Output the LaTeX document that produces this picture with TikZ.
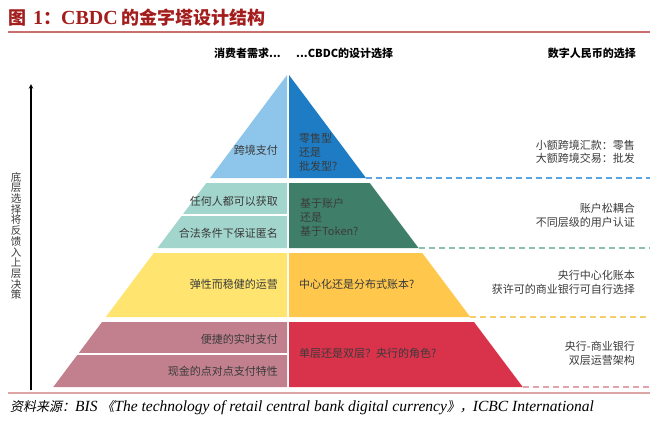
\documentclass[tikz,border=0pt]{standalone}
\usepackage{fontspec}
\setmainfont{Noto Sans CJK SC}
\newfontfamily\serifbold{Liberation Serif}
\newfontfamily\slantcjk{Noto Sans CJK SC}[FakeSlant=0.2]
\usetikzlibrary{positioning}

\definecolor{titlered}{HTML}{A31D1D}
\definecolor{ruleline}{HTML}{C9706E}
\definecolor{botrule}{HTML}{DDA4A4}
\definecolor{txtgray}{HTML}{3A3A3A}
\definecolor{blueL}{HTML}{8EC5EB}
\definecolor{blueD}{HTML}{1E7CC4}
\definecolor{greenL}{HTML}{A2D6CD}
\definecolor{greenD}{HTML}{3F7F6A}
\definecolor{yellowL}{HTML}{FFE570}
\definecolor{yellowD}{HTML}{FFC84C}
\definecolor{pinkL}{HTML}{C2808E}
\definecolor{redD}{HTML}{D9334B}
\definecolor{blueG}{HTML}{5DA5DF}
\definecolor{greenG}{HTML}{8CBFAE}
\definecolor{yellowG}{HTML}{F5CF6B}
\definecolor{pinkG}{HTML}{E3A3AD}

\begin{document}
\begin{tikzpicture}[x=1pt,y=-1pt,
  lefttxt/.style={anchor=east,inner sep=0pt,text=txtgray,align=right,font=\fontsize{11}{14}\selectfont},
  righttxt/.style={anchor=west,inner sep=0pt,text=txtgray,align=left,font=\fontsize{11}{14}\selectfont},
  notetxt/.style={anchor=east,inner sep=0pt,text=txtgray,align=right,font=\fontsize{11}{14}\selectfont},
  headtxt/.style={inner sep=0pt,font=\fontsize{11}{13}\selectfont\bfseries},
  guide/.style={dash pattern=on 6pt off 4pt,line width=1.2pt}]
\useasboundingbox (0,0) rectangle (650,423);

% title
\node[anchor=west,inner sep=0pt,text=titlered] (title) at (8,18)
  {\fontsize{18}{20}\selectfont\bfseries 图\hspace{7pt}{\serifbold\fontsize{20}{20}\selectfont 1}：{\serifbold\fontsize{20}{20}\selectfont CBDC} 的金字塔设计结构};
\draw[ruleline,line width=1.5pt] (8,32) -- (650,32);
\draw[botrule,line width=2pt] (8,393) -- (650,393);

% headers
\node[headtxt,anchor=east] (hneed) at (281,53) {消费者需求...};
\node[headtxt,anchor=west] (hdesign) at (296,53) {...CBDC的设计选择};
\node[headtxt,anchor=east] (hchoice) at (636,53) {数字人民币的选择};

% first tier
\fill[blueL] (287,75) -- (287,178) -- (210,178) -- cycle;
\fill[blueD] (289,75) -- (366,178) -- (289,178) -- cycle;

% second tier
\fill[greenL] (206.25,183) -- (287,183) -- (287,248) -- (157.5,248) -- cycle;
\fill[greenD] (289,183) -- (369.75,183) -- (418.5,248) -- (289,248) -- cycle;
\draw[white,line width=2pt] (170,215) -- (287,215);

% third tier
\fill[yellowL] (153.75,253) -- (287,253) -- (287,317) -- (105.75,317) -- cycle;
\fill[yellowD] (289,253) -- (422.25,253) -- (470.25,317) -- (289,317) -- cycle;

% fourth tier
\fill[pinkL] (102,322) -- (287,322) -- (287,387) -- (53.25,387) -- cycle;
\fill[redD] (289,322) -- (474,322) -- (522.75,387) -- (289,387) -- cycle;
\draw[white,line width=2pt] (70,354) -- (287,354);

% guide lines
\coordinate (g1) at (366,178);   \coordinate (e1) at (650,178);
\coordinate (g2) at (418.5,248); \coordinate (e2) at (650,248);
\coordinate (g3) at (470.25,317);\coordinate (e3) at (650,317);
\coordinate (g4) at (522.75,387);\coordinate (e4) at (650,387);
\draw[guide,blueG] (g1) -- (e1);
\draw[guide,greenG] (g2) -- (e2);
\draw[guide,yellowG] (g3) -- (e3);
\draw[guide,pinkG] (g4) -- (e4);

% feedback arrow
\coordinate (abot) at (31,390);
\coordinate (atop) at (31,84);
\draw[-stealth,line width=1.1pt] (abot) -- (atop);
\node[inner sep=0pt,text=txtgray,align=center,font=\fontsize{10.5}{10.7}\selectfont] (feedback) at (16,236)
  {底\\层\\选\\择\\将\\反\\馈\\入\\上\\层\\决\\策};

% labels
\node[lefttxt] (cross) at (278,150) {跨境支付};
\node[righttxt] (retail) at (299,152) {零售型\\还是\\批发型?};
\node[lefttxt] (anyone) at (278,201) {任何人都可以获取};
\node[lefttxt] (anon) at (278,233) {合法条件下保证匿名};
\node[righttxt] (token) at (300,217) {基于账户\\还是\\基于Token?};
\node[lefttxt] (robust) at (278,284) {弹性而稳健的运营};
\node[righttxt] (ledger) at (299,284) {中心化还是分布式账本?};
\node[lefttxt] (instant) at (278,339) {便捷的实时支付};
\node[lefttxt] (cash) at (278,371) {现金的点对点支付特性};
\node[righttxt] (tier) at (299,353) {单层还是双层？央行的角色?};

\node[notetxt,font=\fontsize{11}{12.5}\selectfont] (n1) at (635,152) {小额跨境汇款：零售\\大额跨境交易：批发};
\node[notetxt] (n2) at (635,215) {账户松耦合\\不同层级的用户认证};
\node[notetxt] (n3) at (635,282) {央行中心化账本\\获许可的商业银行可自行选择};
\node[notetxt] (n4) at (635,353) {央行-商业银行\\双层运营架构};

% source
\node[anchor=west,inner sep=0pt,text=black] (source) at (10,408)
  {\fontsize{13}{15}\selectfont{\slantcjk 资料来源：}{\serifbold\itshape\fontsize{15.5}{15}\selectfont BIS }{\slantcjk 《}{\serifbold\itshape\fontsize{15.5}{15}\selectfont The technology of retail central bank digital currency}{\slantcjk 》，}{\serifbold\itshape\fontsize{15.5}{15}\selectfont ICBC International}};
\end{tikzpicture}
\end{document}
